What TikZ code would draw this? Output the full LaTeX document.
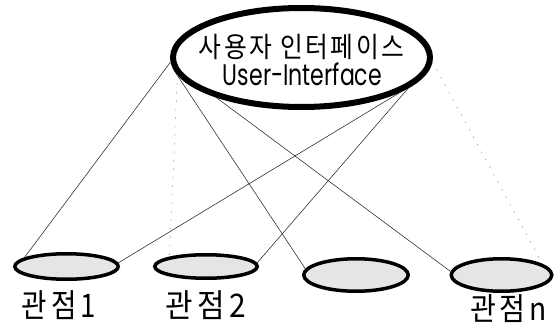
\documentclass[tikz,border=0pt]{standalone}
\usepackage{fontspec}
\usetikzlibrary{shapes.geometric}
\newfontfamily\krfont[LetterSpace=10]{Noto Sans CJK KR}
\newfontfamily\krlabel[LetterSpace=14]{Noto Sans CJK KR}
\newfontfamily\enfont{Poppins}
\tikzset{
  mainring/.style={ellipse, draw=black, line width=6pt, fill=white, inner sep=0pt,
    minimum width=257pt, minimum height=99pt},
  viewring/.style={ellipse, draw=black, line width=3.5pt, fill=black!10, inner sep=0pt},
  link/.style={black!85, line width=0.55pt},
  fadelink/.style={black!45, line width=0.5pt, dash pattern=on 1.5pt off 7pt},
  textbox/.style={inner sep=0pt},
}
\begin{document}
\begin{tikzpicture}[x=1pt, y=-1pt]
  \useasboundingbox (0,0) rectangle (557,324);
  % interface ring
  \node[mainring] (ui) at (301.5,57.5) {};
  % view rings
  \node[viewring, minimum width=103.5pt, minimum height=25.5pt] (v1) at (66.5,266.5) {};
  \node[viewring, minimum width=102.5pt, minimum height=23.5pt] (v2) at (206,266.5) {};
  \node[viewring, minimum width=104.5pt, minimum height=32.5pt] (v3) at (356,275) {};
  \node[viewring, minimum width=100.5pt, minimum height=32.5pt] (v4) at (501.5,275) {};
  % links between the interface and the views
  \draw[link] (ui.182) -- (v1.168);
  \draw[link] (ui.186) -- (v3.173);
  \draw[link] (ui.205) -- (v4.176);
  \draw[link] (v1.4) -- (ui.-19);
  \draw[link] (v2.4) -- (ui.-16);
  \draw[fadelink] (ui.188) -- (v2.165);
  \draw[fadelink] (ui.-2) -- (v4.15);
  % texts
  \node[textbox] (t1) at (301.5,47) {\resizebox*{205pt}{25.5pt}{\krfont 사용자 인터페이스}};
  \node[textbox] (t2) at (302.5,74) {\resizebox*{159pt}{23pt}{\enfont User-Interface}};
  \node[textbox] (l1) at (59,305) {\resizebox*{74pt}{29pt}{\krlabel 관점1}};
  \node[textbox] (l2) at (206,305) {\resizebox*{80pt}{29pt}{\krlabel 관점2}};
  \node[textbox] (l4) at (508.5,308.5) {\resizebox*{77pt}{28pt}{\krlabel 관점n}};
\end{tikzpicture}
\end{document}
